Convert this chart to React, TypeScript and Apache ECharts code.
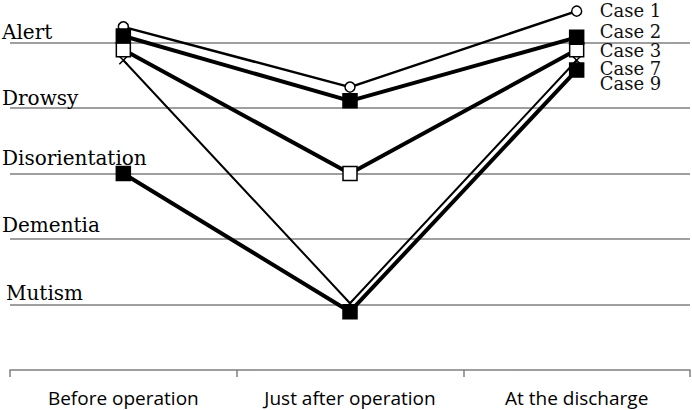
import React, { useEffect, useRef } from "react";
import * as echarts from "echarts";

const categories = ["Before operation", "Just after operation", "At the discharge"];
const levels = ["Mutism", "Dementia", "Disorientation", "Drowsy", "Alert"];

const case1 = [5.24, 4.32, 5.48];
const case2 = [5.1, 4.11, 5.08];
const case3 = [4.89, 3.0, 4.89];
const case7 = [4.73, 1.02, 4.73];
const case9 = [3.0, 0.89, 4.58];

const labelDy: Record<string, number> = {
  "Case 1": -1,
  "Case 2": -6,
  "Case 3": 1,
  "Case 7": 8,
  "Case 9": 13,
};

const levelKey = ["mu", "de", "di", "dr", "al"];

export default function App() {
  const ref = useRef<HTMLDivElement>(null);
  useEffect(() => {
    if (!ref.current) return;
    const chart = echarts.init(ref.current, undefined, { renderer: "svg" });
    const mk = (
      name: string,
      data: number[],
      width: number,
      symbol: string,
      size: number | number[],
      fill: string,
      z: number
    ) => ({
      name,
      type: "line",
      data,
      symbol,
      symbolSize: size,
      showAllSymbol: true,
      silent: true,
      z,
      lineStyle: { color: "#000", width },
      itemStyle: { color: fill, borderColor: "#000", borderWidth: 1.5, opacity: 1 },
      emphasis: { disabled: true },
      endLabel: {
        show: true,
        formatter: name,
        color: "#111",
        fontFamily: "DejaVu Serif",
        fontSize: 18,
        distance: 0,
        offset: [23, labelDy[name]],
      },
    });
    const base = { fontFamily: "DejaVu Serif", fontSize: 20, color: "#000" };
    chart.setOption({
      animation: false,
      backgroundColor: "#fff",
      grid: { left: 10, right: 2, top: 0, bottom: 40, containLabel: false, outerBoundsMode: "none" },
      xAxis: {
        type: "category",
        data: categories,
        boundaryGap: true,
        axisLine: { show: true, lineStyle: { color: "#7f7f7f", width: 1.5 } },
        axisTick: { show: true, length: 7, lineStyle: { color: "#7f7f7f", width: 1.5 } },
        axisLabel: {
          color: "#000",
          fontFamily: "Open Sans",
          fontSize: 19,
          margin: 18,
        },
        splitLine: { show: false },
      },
      yAxis: {
        type: "value",
        min: 0,
        max: 5.65,
        interval: 1,
        axisLine: { show: false },
        axisTick: { show: false },
        splitLine: {
          show: true,
          showMinLine: false,
          showMaxLine: false,
          lineStyle: { color: "#7f7f7f", width: 1.5 },
        },
        axisLabel: {
          show: true,
          margin: 8,
          align: "left",
          verticalAlign: "bottom",
          color: "#000",
          fontFamily: "DejaVu Serif",
          fontSize: 20,
          formatter: (v: number) => {
            if (Math.abs(v - Math.round(v)) > 1e-6) return "";
            const i = Math.round(v) - 1;
            const n = levels[i];
            if (!n) return "";
            return "{" + levelKey[i] + "|" + n + "}";
          },
          rich: {
            al: { ...base, padding: [0, 0, 1, 0] },
            dr: { ...base, padding: [0, 0, 0, 0] },
            di: { ...base, padding: [0, 0, 6, 0] },
            de: { ...base, padding: [0, 0, 4, 0] },
            mu: { ...base, padding: [0, 0, 2, 4] },
          },
        },
      },
      series: [
        mk("Case 3", case3, 4, "rect", 14, "#fff", 2),
        mk("Case 7", case7, 2, "path://M0 0L10 10M10 0L0 10", 8, "#000", 3),
        mk("Case 9", case9, 4, "rect", 14, "#000", 4),
        mk("Case 1", case1, 2.5, "circle", 10, "#fff", 5),
        mk("Case 2", case2, 4, "rect", 14, "#000", 6),
      ],
    });
    return () => chart.dispose();
  }, []);
  return <div ref={ref} style={{ width: 692, height: 410, position: "absolute", left: 0, top: 0 }} />;
}
